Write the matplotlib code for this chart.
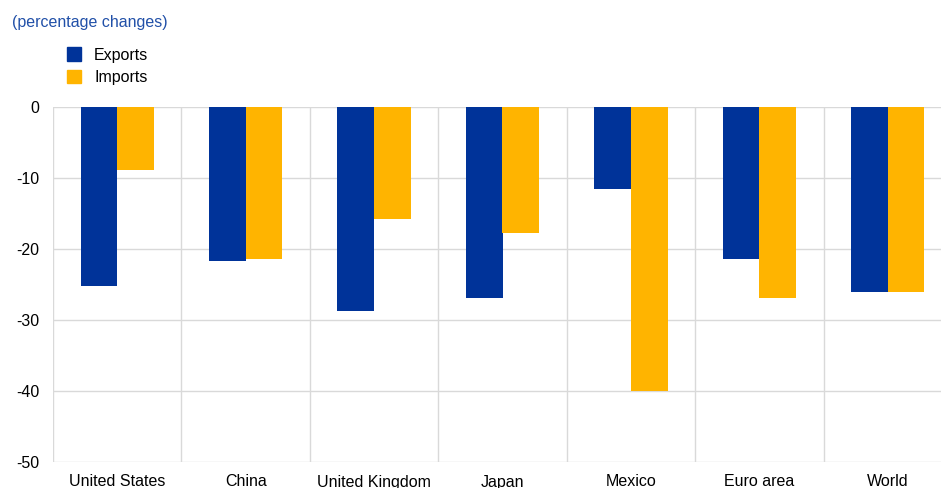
import numpy as np
import matplotlib
matplotlib.use('Agg')
import matplotlib.pyplot as plt
from matplotlib.patches import Patch

plt.rcParams['font.family'] = ['Liberation Sans', 'DejaVu Sans']
plt.rcParams['font.size'] = 11.5
plt.rcParams['axes.unicode_minus'] = False

# data (percentage changes)
categories = ['United States', 'China', 'United Kingdom', 'Japan', 'Mexico', 'Euro area', 'World']
exports = [-25.2, -21.7, -28.8, -26.9, -11.5, -21.4, -26.1]
imports = [-8.9, -21.4, -15.8, -17.7, -40.0, -26.9, -26.1]

c_exp = '#003399'
c_imp = '#FFB400'
grid_c = '#d9d9d9'

fig = plt.figure(figsize=(9.41, 4.88), dpi=100)
ax = fig.add_axes([53 / 941, 1 - 462 / 488, 899 / 941, 355 / 488])

x = np.arange(len(categories))
w = 0.285
ax.bar(x - w / 2, exports, width=w, color=c_exp, zorder=3)
ax.bar(x + w / 2, imports, width=w, color=c_imp, zorder=3)

ax.set_xlim(-0.5, len(categories) - 0.5)
ax.set_ylim(-50, 0)
ax.set_yticks(np.arange(-50, 1, 10))
ax.set_xticks(x)
ax.set_xticklabels(categories)
ax.set_xticks(np.arange(-0.5, len(categories), 1), minor=True)
ax.tick_params(axis='both', which='both', length=0, colors='#000000', labelsize=11.5)
ax.tick_params(axis='y', pad=10)
ax.tick_params(axis='x', pad=9)
ax.grid(axis='y', which='major', color=grid_c, linewidth=1, zorder=0)
ax.grid(axis='x', which='minor', color=grid_c, linewidth=1, zorder=0)
ax.grid(axis='x', which='major', visible=False)
for s in ax.spines.values():
    s.set_visible(False)

fig.text(12 / 941, 1 - 22 / 488, '(percentage changes)', color='#2150A8',
         fontsize=11.5, va='center', ha='left')

handles = [Patch(color=c_exp, label='Exports'), Patch(color=c_imp, label='Imports')]
fig.legend(handles=handles, loc='upper left', bbox_to_anchor=(67 / 941, 1 - 47.5 / 488),
           frameon=False, fontsize=11.5, handlelength=0.9, handleheight=0.9,
           handletextpad=0.8, labelspacing=0.45, borderpad=0, borderaxespad=0)

fig.savefig('out.png', dpi=100)
